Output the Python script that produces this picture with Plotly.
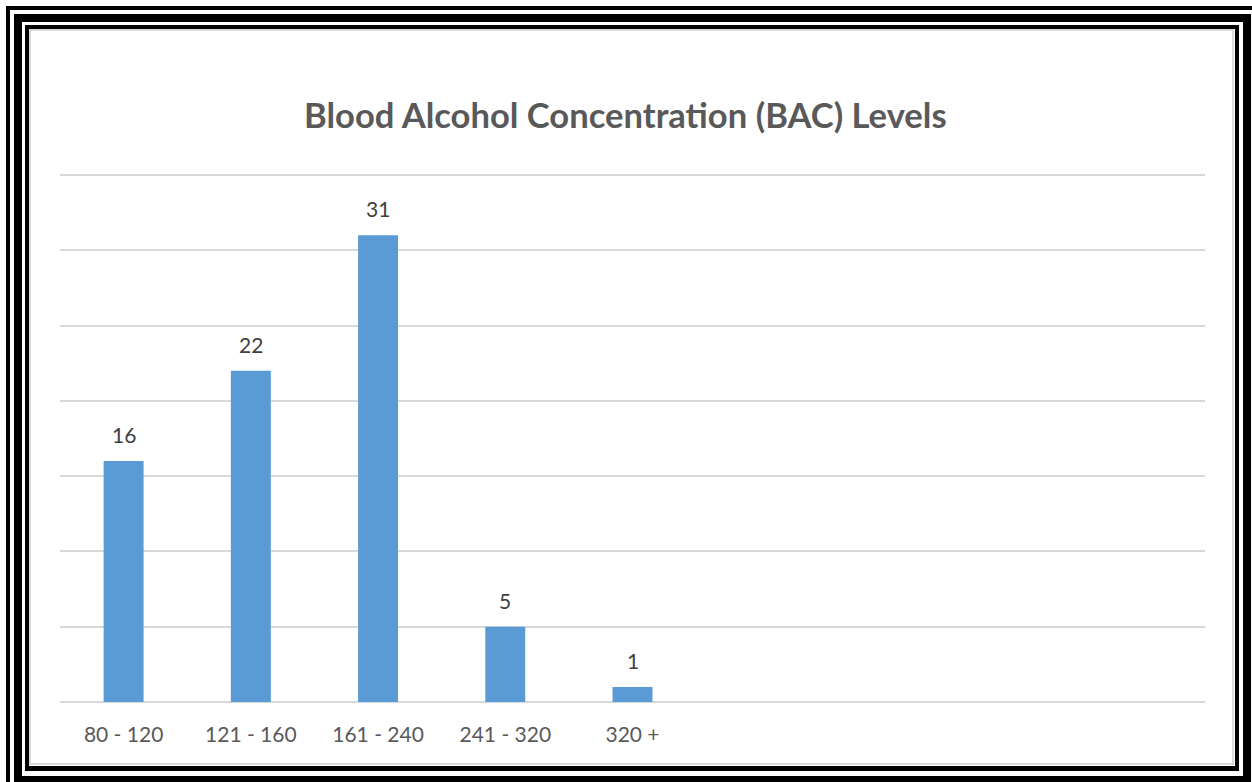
import plotly.graph_objects as go

# ---- data ----
categories = ["80 - 120", "121 - 160", "161 - 240", "241 - 320", "320 +"]
values = [16, 22, 31, 5, 1]
title_text = "Blood Alcohol Concentration (BAC) Levels"

# ---- layout geometry (pixels) ----
W, H = 1252, 782
ML, MR, MT, MB = 60, 47, 173, 78
PW, PH = W - ML - MR, H - MT - MB


def px(x):
    return (x - ML) / PW


def py(y):
    return (H - MB - y) / PH


BLACK = "#000000"
WHITE = "#ffffff"
GRID = "#d9d9d9"

frame_rects = [
    (6, 6, 10, 782, BLACK),
    (6, 6, 1252, 10, BLACK),
    (14, 14, 1251, 782, BLACK),
    (22, 22, 1243, 776, WHITE),
    (25, 25, 1239, 771, BLACK),
    (29, 29, 1235, 766, WHITE),
    (29, 29, 1234, 765, GRID),
    (31, 31, 1232, 763, WHITE),
]

shapes = [
    dict(type="rect", xref="paper", yref="paper",
         x0=px(a), x1=px(c), y0=py(d), y1=py(b),
         fillcolor=col, line=dict(width=0), layer="below")
    for (a, b, c, d, col) in frame_rects
]

fig = go.Figure()
fig.add_trace(go.Bar(
    x=categories, y=values, width=0.314,
    marker=dict(color="#5b9bd5", line=dict(width=0)),
    hoverinfo="skip",
))

annotations = [
    dict(x=c, y=v, xref="x", yref="y", text=str(v), showarrow=False,
         yanchor="bottom", yshift=12,
         font=dict(family="Lato", size=21, color="#404040"))
    for c, v in zip(categories, values)
]
annotations.append(dict(
    x=px(625), y=py(115), xref="paper", yref="paper",
    text="<b>" + title_text + "</b>", showarrow=False,
    xanchor="center", yanchor="middle",
    font=dict(family="Lato", size=34.6, color="#595959"),
))

fig.update_layout(
    width=W, height=H,
    margin=dict(l=ML, r=MR, t=MT, b=MB, pad=0),
    paper_bgcolor=WHITE,
    plot_bgcolor="rgba(0,0,0,0)",
    showlegend=False,
    shapes=shapes,
    annotations=annotations,
    xaxis=dict(
        type="category", range=[-0.5, 8.5],
        showgrid=False, zeroline=False, showline=False,
        ticks="outside", ticklen=12, tickcolor="rgba(0,0,0,0)",
        tickfont=dict(family="Lato", size=21, color="#595959"),
        fixedrange=True,
    ),
    yaxis=dict(
        range=[-0.13, 35.13], dtick=5, showticklabels=False,
        showgrid=True, gridcolor=GRID, gridwidth=1.5,
        zeroline=False, showline=False, fixedrange=True,
    ),
)

fig.write_html(
    "out.html",
    config={"displayModeBar": False},
    post_script="document.body.style.margin='0';",
)
